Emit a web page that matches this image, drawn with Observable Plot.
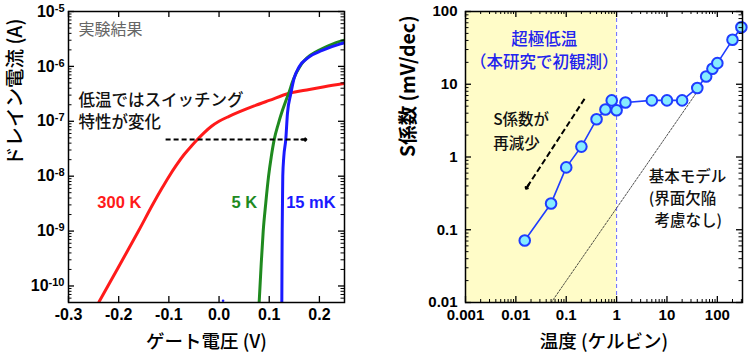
<!DOCTYPE html>
<html>
<head>
<meta charset="utf-8">
<script src="https://cdn.jsdelivr.net/npm/d3@7"></script>
<script src="https://cdn.jsdelivr.net/npm/@observablehq/plot@0.6"></script>
<style>
  html, body { margin: 0; padding: 0; background: #fff; }
  #wrap { position: relative; width: 750px; height: 355px; overflow: hidden; background: #fff; }
  #wrap svg { position: absolute; top: 0; }
</style>
</head>
<body>
<div id="wrap"></div>
<script>
// ---------------- Left panel data: drain current vs gate voltage ----------------
const red300KV   = [-0.2392, -0.20, -0.16, -0.13, -0.115, -0.10, -0.085, -0.07, -0.055, -0.045, -0.03, -0.015, 0.00, 0.02, 0.04, 0.07, 0.10, 0.14, 0.18, 0.21, 0.25];
const red300KLog = [-10.29, -9.65, -8.99, -8.48, -8.24, -8.01, -7.80, -7.61, -7.45, -7.35, -7.21, -7.09, -7.00, -6.91, -6.83, -6.72, -6.62, -6.49, -6.42, -6.37, -6.31];
const green5KV   = [0.080, 0.084, 0.088, 0.093, 0.0987, 0.104, 0.110, 0.118, 0.1264, 0.133, 0.1396, 0.146, 0.1528, 0.160, 0.1693, 0.18, 0.1925, 0.205, 0.2188, 0.232, 0.25];
const green5KLog = [-10.29, -9.6, -9.0, -8.5, -8.0, -7.65, -7.33, -7.05, -6.80, -6.63, -6.47, -6.29, -6.14, -6.02, -5.90, -5.81, -5.74, -5.68, -5.62, -5.57, -5.52];
const blue15mKV   = [0.1251, 0.1255, 0.1258, 0.1264, 0.127, 0.129, 0.133, 0.1363, 0.143, 0.1495, 0.1594, 0.179, 0.2056, 0.242, 0.25];
const blue15mKLog = [-10.29, -9.5, -9.0, -8.5, -8.0, -7.65, -7.33, -6.86, -6.50, -6.22, -6.01, -5.83, -5.71, -5.59, -5.57];
const blueNoiseV = [0.008];
const blueNoiseLog = [-10.27];

const leftXTicks = [-0.3, -0.2, -0.1, 0.0, 0.1, 0.2];
const leftYExps = [-10, -9, -8, -7, -6, -5];

// ---------------- Right panel data: S factor vs temperature ----------------
const tempK   = [0.015, 0.05, 0.1, 0.2, 0.4, 0.6, 0.8, 1.0, 1.5, 5, 10, 20, 40, 60, 80, 100, 200, 300];
const sFactor = [0.071, 0.23, 0.72, 1.39, 3.3, 4.5, 6.0, 4.4, 5.6, 6.0, 6.0, 6.0, 8.9, 12.8, 16.3, 19.5, 40.8, 60.8];
const modelT = [0.0504, 40];
const modelS = [0.01, 7.94];
const rightXTicks = [0.001, 0.01, 0.1, 1, 10, 100];
const rightXLabels = ["0.001", "0.01", "0.1", "1", "10", "100"];
const rightYTicks = [0.01, 0.1, 1, 10, 100];
const rightYLabels = ["0.01", "0.1", "1", "10", "100"];

// annotations (text, anchor value pairs)
const leftTitleNote = [{t: "実験結果", v: -0.280, l: -5.327}];
const leftNotes = [
  {t: "低温ではスイッチング", v: -0.280, l: -6.618},
  {t: "特性が変化", v: -0.280, l: -7.018}
];
const leftCurveLabels = [
  {t: "300 K", v: -0.2426, l: -8.491, c: "#ff1a1a"},
  {t: "5 K", v: 0.0248, l: -8.491, c: "#1f8a1f"},
  {t: "15 mK", v: 0.1337, l: -8.491, c: "#1a1aff"}
];
const leftArrow = {v1: -0.1065, v2: 0.174, l: -7.333};
const rightBlueNotes = [
  {t: "超極低温", T: 0.0365, S: 41.2},
  {t: "（本研究で初観測）", T: 0.0365, S: 19.9}
];
const rightNotes = [
  {t: "S係数が", T: 0.00354, S: 3.27},
  {t: "再減少", T: 0.00354, S: 1.53},
  {t: "基本モデル", T: 4.35, S: 0.53},
  {t: "(界面欠陥", T: 4.35, S: 0.262},
  {t: "考慮なし)", T: 5.66, S: 0.132}
];
const rightArrow = {T1: 0.231, S1: 6.3, T2: 0.0159, S2: 0.366};
const ultraLowRange = {T1: 0.001, T2: 1};

// ---------------- helpers ----------------
const H = 355, W = 375, MT = 11, MB = 53;
const innerH = H - MT - MB;
const SANS = "'Liberation Sans', Arial, sans-serif";
const JP = "'Noto Sans CJK JP', 'Noto Sans', sans-serif";

function minorLog(lo, hi) {
  const out = [];
  for (let e = lo; e < hi; e++) for (let k = 2; k <= 9; k++) out.push(k * 10 ** e);
  return out;
}
function frameTicks(xs, ys, innerW, xLen, yLen, sw) {
  return [
    Plot.tickX(xs, {x: d => d, insetTop: innerH - xLen, stroke: "black", strokeWidth: sw}),
    Plot.tickX(xs, {x: d => d, insetBottom: innerH - xLen, stroke: "black", strokeWidth: sw}),
    Plot.tickY(ys, {y: d => d, insetRight: innerW - yLen, stroke: "black", strokeWidth: sw}),
    Plot.tickY(ys, {y: d => d, insetLeft: innerW - yLen, stroke: "black", strokeWidth: sw})
  ];
}
const lookup = (ticks, labels) => d => labels[ticks.findIndex(t => Math.abs(Math.log10(t) - Math.log10(d)) < 1e-6)];

const toRows = (vs, ls) => vs.map((v, i) => ({v, I: 10 ** ls[i]}));

// ---------------- left plot ----------------
const LML = 68, LMR = 31;
const leftInnerW = W - LML - LMR;
const leftPlot = Plot.plot({
  width: W, height: H,
  marginLeft: LML, marginRight: LMR, marginTop: MT, marginBottom: MB,
  x: {domain: [-0.3, 0.25], label: null},
  y: {type: "log", domain: [5e-11, 1e-5], label: null},
  style: {fontFamily: SANS, fontSize: "15px", fontWeight: "bold", background: "white", color: "black"},
  marks: [
    Plot.line(toRows(red300KV, red300KLog), {x: "v", y: "I", stroke: "#ff1a1a", strokeWidth: 3, curve: "monotone-x", clip: true}),
    Plot.line(toRows(green5KV, green5KLog), {x: "v", y: "I", stroke: "#1f8a1f", strokeWidth: 3, curve: "monotone-x", clip: true}),
    Plot.line(toRows(blue15mKV, blue15mKLog), {x: "v", y: "I", stroke: "#1a1aff", strokeWidth: 3, curve: "monotone-x", clip: true}),
    Plot.dot(toRows(blueNoiseV, blueNoiseLog), {x: "v", y: "I", r: 1.3, fill: "#1a1aff", stroke: null}),
    Plot.link([leftArrow], {x1: "v1", x2: "v2", y1: d => 10 ** d.l, y2: d => 10 ** d.l, stroke: "black", strokeWidth: 2, strokeDasharray: "5,3"}),
    Plot.arrow([leftArrow], {x1: d => d.v2 - 0.01, x2: "v2", y1: d => 10 ** d.l, y2: d => 10 ** d.l, stroke: "black", strokeWidth: 2, headLength: 9, headAngle: 90}),
    Plot.text(leftTitleNote, {x: "v", y: d => 10 ** d.l, text: "t", fill: "#666666", fontWeight: "normal", textAnchor: "start", fontSize: 16, fontFamily: JP}),
    Plot.text(leftNotes, {x: "v", y: d => 10 ** d.l, text: "t", fill: "#111111", fontWeight: 500, textAnchor: "start", fontSize: 16.5, fontFamily: JP}),
    Plot.text(leftCurveLabels, {x: "v", y: d => 10 ** d.l, text: "t", fill: "c", textAnchor: "start", fontSize: 16.5, fontWeight: "bold", fontFamily: SANS}),
    ...frameTicks(leftXTicks, leftYExps.map(e => 10 ** e), leftInnerW, 6, 6, 1.3),
    ...frameTicks([], minorLog(-11, -5).filter(d => d >= 5e-11), leftInnerW, 3, 3.5, 1),
    Plot.axisX({ticks: leftXTicks, tickSize: 0, tickPadding: 6, tickFormat: d => d.toFixed(1), fontSize: 16, label: null}),
    Plot.axisY({ticks: leftYExps.map(e => 10 ** e), tickSize: 0, tickPadding: 4, tickFormat: d => "10^" + Math.round(Math.log10(d)), fontSize: 16, label: null}),
    Plot.text(["ゲート電圧 (V)"], {frameAnchor: "bottom", lineAnchor: "middle", dy: 40, fontSize: 18.5, fontWeight: 500, fontFamily: JP}),
    Plot.text(["ドレイン電流 (A)"], {frameAnchor: "left", lineAnchor: "middle", dx: -53, dy: 9, rotate: -90, fontSize: 19.5, fontWeight: 500, fontFamily: JP}),
    Plot.frame({stroke: "black", strokeWidth: 1.5})
  ]
});
leftPlot.style.left = "0px";

// superscript exponents on the left y axis
d3.select(leftPlot).selectAll('g[aria-label="y-axis tick label"] text').each(function () {
  const [b, e] = this.textContent.split("^");
  if (e === undefined) return;
  const s = d3.select(this);
  s.text(null);
  s.append("tspan").text(b);
  s.append("tspan").attr("dy", "-0.45em").attr("font-size", "11px").text(e);
});

// ---------------- right plot ----------------
const RML = 90, RMR = 8;
const rightInnerW = W - RML - RMR;
const rightPlot = Plot.plot({
  width: W, height: H,
  marginLeft: RML, marginRight: RMR, marginTop: MT, marginBottom: MB,
  x: {type: "log", domain: [0.001, 316], label: null},
  y: {type: "log", domain: [0.01, 100], label: null},
  style: {fontFamily: SANS, fontSize: "15px", fontWeight: "bold", background: "white", color: "black"},
  marks: [
    Plot.rect([ultraLowRange], {x1: "T1", x2: "T2", y1: 0.01, y2: 100, fill: "#fffcc8"}),
    Plot.ruleX([ultraLowRange.T2], {stroke: "#6b6bff", strokeWidth: 1, strokeDasharray: "4,3"}),
    Plot.line(modelT.map((T, i) => ({T, S: modelS[i]})), {x: "T", y: "S", stroke: "#222", strokeWidth: 0.8, strokeDasharray: "2,1.5"}),
    Plot.link([rightArrow], {x1: "T1", y1: "S1", x2: "T2", y2: "S2", stroke: "black", strokeWidth: 2, strokeDasharray: "6,3"}),
    Plot.arrow([rightArrow], {x1: d => d.T2 * 10 ** 0.06, y1: d => d.S2 * 10 ** 0.064, x2: "T2", y2: "S2", stroke: "black", strokeWidth: 2, headLength: 9, headAngle: 90}),
    Plot.line(tempK.map((T, i) => ({T, S: sFactor[i]})), {x: "T", y: "S", stroke: "#1f3cff", strokeWidth: 1.6}),
    Plot.dot(tempK.map((T, i) => ({T, S: sFactor[i]})), {x: "T", y: "S", r: 5.3, fill: "#86ecff", stroke: "#1f3cff", strokeWidth: 2}),
    Plot.text(rightBlueNotes, {x: "T", y: "S", text: "t", fill: "#2323ee", textAnchor: "middle", fontSize: 16.5, fontWeight: 500, fontFamily: JP}),
    Plot.text(rightNotes, {x: "T", y: "S", text: "t", fill: "#111111", textAnchor: "start", fontSize: 15.5, fontWeight: 500, fontFamily: JP}),
    ...frameTicks(rightXTicks, rightYTicks, rightInnerW, 6, 6, 1.3),
    ...frameTicks(minorLog(-3, 3).filter(d => d <= 316), minorLog(-2, 2), rightInnerW, 3, 3.5, 1),
    Plot.axisX({ticks: rightXTicks, tickSize: 0, tickPadding: 7, tickFormat: lookup(rightXTicks, rightXLabels), fontSize: 15, label: null}),
    Plot.axisY({ticks: rightYTicks, tickSize: 0, tickPadding: 8, tickFormat: lookup(rightYTicks, rightYLabels), fontSize: 15, label: null}),
    Plot.text(["温度 (ケルビン)"], {frameAnchor: "bottom", lineAnchor: "middle", dy: 40, fontSize: 18.5, fontWeight: 500, fontFamily: JP}),
    Plot.text(["S係数 (mV/dec)"], {frameAnchor: "left", lineAnchor: "middle", dx: -57, rotate: -90, fontSize: 19.5, fontWeight: "bold", fontFamily: JP}),
    Plot.frame({stroke: "black", strokeWidth: 1.5})
  ]
});
rightPlot.style.left = "375px";

const wrap = document.getElementById("wrap");
wrap.appendChild(leftPlot);
wrap.appendChild(rightPlot);
</script>
</body>
</html>
